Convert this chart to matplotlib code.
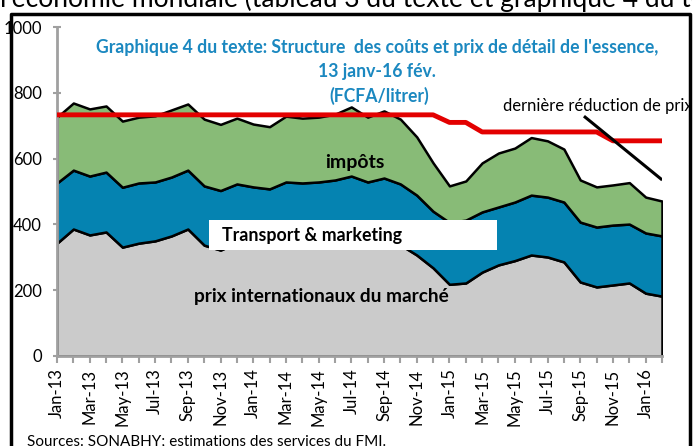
import matplotlib.pyplot as plt
import numpy as np
from matplotlib.patches import Rectangle
from matplotlib.lines import Line2D

plt.rcParams['font.family'] = ['Lato', 'DejaVu Sans']

# monthly data Jan-13 .. Feb-16 (FCFA/litre)
months = ['Jan-13', 'Feb-13', 'Mar-13', 'Apr-13', 'May-13', 'Jun-13', 'Jul-13', 'Aug-13', 'Sep-13', 'Oct-13', 'Nov-13', 'Dec-13',
          'Jan-14', 'Feb-14', 'Mar-14', 'Apr-14', 'May-14', 'Jun-14', 'Jul-14', 'Aug-14', 'Sep-14', 'Oct-14', 'Nov-14', 'Dec-14',
          'Jan-15', 'Feb-15', 'Mar-15', 'Apr-15', 'May-15', 'Jun-15', 'Jul-15', 'Aug-15', 'Sep-15', 'Oct-15', 'Nov-15', 'Dec-15',
          'Jan-16', 'Feb-16']
intl = [343, 386, 368, 377, 331, 343, 350, 365, 386, 337, 322, 345,
        335, 330, 350, 345, 348, 352, 365, 350, 360, 338, 307, 268,
        218, 222, 255, 277, 290, 307, 301, 286, 225, 210, 216, 222,
        191, 182]
transport = [183, 179, 179, 182, 182, 183, 179, 179, 179, 180, 181, 178,
             179, 178, 179, 181, 181, 183, 182, 179, 181, 185, 182, 172,
             188, 191, 183, 176, 178, 182, 182, 182, 182, 182, 182, 179,
             183, 183]
taxes = [200, 204, 204, 201, 201, 200, 201, 204, 201, 203, 201, 200,
         191, 189, 200, 197, 197, 200, 210, 197, 204, 197, 177, 147,
         111, 119, 149, 164, 164, 175, 171, 161, 128, 122, 122, 126,
         109, 106]
retail = [733] * 24 + [710, 710] + [681] * 8 + [654] * 4

x = np.arange(len(months))

fig = plt.figure(figsize=(6.94, 4.46), dpi=100)
ax = fig.add_axes([57 / 694, 90 / 446, 605 / 694, 329 / 446])

ax.stackplot(x, intl, transport, taxes, colors=['#cbcbcb', '#0583b1', '#88bb77'],
             edgecolor='black', linewidth=1.8, zorder=2)
ax.plot(x, retail, color='#e30000', lw=3.5, zorder=4)

# annotation line
ax.plot([32.3, 36.94], [726, 538], color='black', lw=2.2, zorder=5)
ax.text(27.3, 760, 'dernière réduction de prix', fontsize=12, va='center', ha='left',
        clip_on=False, zorder=6)

# labels inside the areas
ax.text(18.2, 587, 'impôts', fontsize=14, fontweight='bold', ha='center', va='center', zorder=6)
ax.add_patch(Rectangle((9.3, 322), 17.6, 91, facecolor='white', edgecolor='none', zorder=5))
ax.text(10.1, 366, 'Transport & marketing', fontsize=12.8, fontweight='bold', ha='left', va='center', zorder=6)
ax.text(16.15, 182, 'prix internationaux du marché', fontsize=13.7, fontweight='bold',
        ha='center', va='center', zorder=6)

ax.set_xlim(0, len(months) - 1)
ax.set_ylim(0, 1000)
ax.set_yticks(range(0, 1001, 200))
ax.set_xticks(x[::2])
ax.set_xticklabels(months[::2], rotation=90, fontsize=12)
ax.set_xticks(x, minor=True)
ax.tick_params(axis='y', labelsize=12, direction='inout', length=6, width=1.5, color='#a0a0a0', pad=8)
ax.tick_params(axis='x', which='both', direction='out', length=5, width=1.5, color='#a0a0a0', pad=4)
for s in ['top', 'right']:
    ax.spines[s].set_visible(False)
ax.spines['left'].set_color('#a0a0a0')
ax.spines['bottom'].set_color('#a0a0a0')
ax.spines['left'].set_linewidth(2)
ax.spines['bottom'].set_linewidth(2)

# title
tc = '#1b88c0'
fig.text(377 / 694, 1 - 48 / 446, "Graphique 4 du texte: Structure  des coûts et prix de détail de l'essence,",
         color=tc, fontsize=12.7, fontweight='bold', ha='center', va='center')
fig.text(377 / 694, 1 - 72 / 446, '13 janv-16 fév.', color=tc, fontsize=12.7, fontweight='bold', ha='center', va='center')
fig.text(379 / 694, 1 - 96 / 446, '(FCFA/litrer)', color=tc, fontsize=12.7, fontweight='bold', ha='center', va='center')

# surrounding page text and frame
fig.text(0.0, 1 - 7 / 446, "l'économie mondiale (tableau 3 du texte et graphique 4 du texte)",
         fontsize=19, ha='left', va='baseline')
fig.text(27 / 694, 1 - 442 / 446, 'Sources: SONABHY; estimations des services du FMI.',
         fontsize=11, ha='left', va='center')
fig.patches.append(Rectangle((692 / 694, 0), 1, 1, transform=fig.transFigure, facecolor='white',
                             edgecolor='none', zorder=20))
fig.lines.append(Line2D([11 / 694, 11 / 694, 690 / 694, 690 / 694], [0, 1 - 14 / 446, 1 - 14 / 446, 0],
                        transform=fig.transFigure, color='black', lw=2.5, zorder=21))

fig.savefig('out.png', dpi=100)
